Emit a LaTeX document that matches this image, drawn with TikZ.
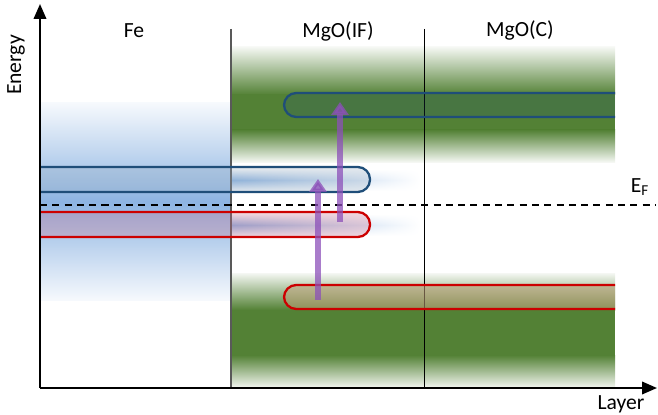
\documentclass[tikz,border=0pt]{standalone}
\usepackage{fontspec}
\setmainfont{Carlito}
\usetikzlibrary{arrows.meta,fadings}
\definecolor{febl}{RGB}{141,180,226}
\definecolor{oxgr}{RGB}{83,129,53}
\definecolor{upbl}{RGB}{31,78,121}
\definecolor{dnrd}{RGB}{204,0,0}
\definecolor{exci}{RGB}{140,80,185}
\tikzfading[name=glowout, left color=transparent!0, right color=transparent!100]
\tikzset{
  lbl/.style={font=\fontsize{12.3}{14}\selectfont},
  axis/.style={line width=1.2pt,-{Triangle[length=0.3cm,width=0.25cm]}},
  pill/.style={line width=1.3pt,rounded corners=0.245cm},
  glow/.style={top color=white,bottom color=white,middle color=febl,path fading=glowout},
  jump/.style={exci,opacity=0.75,line width=0.12cm,-{Triangle[length=0.26cm,width=0.34cm]}},
}
\begin{document}
\begin{tikzpicture}[x=0.02cm,y=-0.02cm]
  \useasboundingbox (0,0) rectangle (658,415);
  \shade[top color=febl!8,bottom color=febl!8,middle color=febl] (40,103) rectangle (231,300);
  \shade[top color=oxgr!6,bottom color=oxgr] (231,47) rectangle (615,95);
  \fill[oxgr] (231,94.5) rectangle (615,130.5);
  \shade[top color=oxgr,bottom color=oxgr!6] (231,130) rectangle (615,162);
  \shade[top color=oxgr!6,bottom color=oxgr] (231,273) rectangle (615,310);
  \fill[oxgr] (231,309.5) rectangle (615,355.5);
  \shade[top color=oxgr,bottom color=oxgr!6] (231,355) rectangle (615,388);
  \shade[glow] (231,169) rectangle (420,191);
  \shade[glow] (231,214) rectangle (420,236);
  \draw[gray!70!black,line width=0.6pt] (231,29) -- (231,388);
  \draw[line width=0.4pt] (424,29) -- (424,388);
  \begin{scope}[pill]
    \draw[upbl,fill=upbl!45,fill opacity=0.3] (40,167) -- (370,167) -- (370,192) -- (40,192);
    \draw[dnrd,fill={rgb,255:red,200;green,110;blue,140},fill opacity=0.3] (40,212) -- (370,212) -- (370,237) -- (40,237);
    \draw[upbl,fill=upbl,fill opacity=0.2] (615,93) -- (284,93) -- (284,117) -- (615,117);
    \draw[dnrd,fill={rgb,255:red,190;green,160;blue,120},fill opacity=0.55] (615,285) -- (284,285) -- (284,309) -- (615,309);
  \end{scope}
  \draw[dashed,line width=0.9pt,dash pattern=on 4pt off 3pt] (40,205) -- (655,205);
  \coordinate (origin) at (40,388);
  \coordinate (etop) at (40,4);
  \coordinate (lend) at (657,388);
  \draw[axis] (origin) -- (etop);
  \draw[axis] (origin) -- (lend);
  \coordinate (jumpa) at (318,300);
  \coordinate (jumpb) at (318,179);
  \coordinate (jumpc) at (340,222);
  \coordinate (jumpd) at (340,102);
  \draw[jump] (jumpa) -- (jumpb);
  \draw[jump] (jumpc) -- (jumpd);
  \node[lbl] (fe) at (134,31) {Fe};
  \node[lbl] (mgoif) at (338,31) {MgO(IF)};
  \node[lbl] (mgoc) at (520,30) {MgO(C)};
  \node[lbl,rotate=90] (energy) at (16,65) {Energy};
  \node[lbl] (layer) at (621,404) {Layer};
  \node[lbl] (ef) at (640,187) {E\textsubscript{F}};
\end{tikzpicture}
\end{document}
